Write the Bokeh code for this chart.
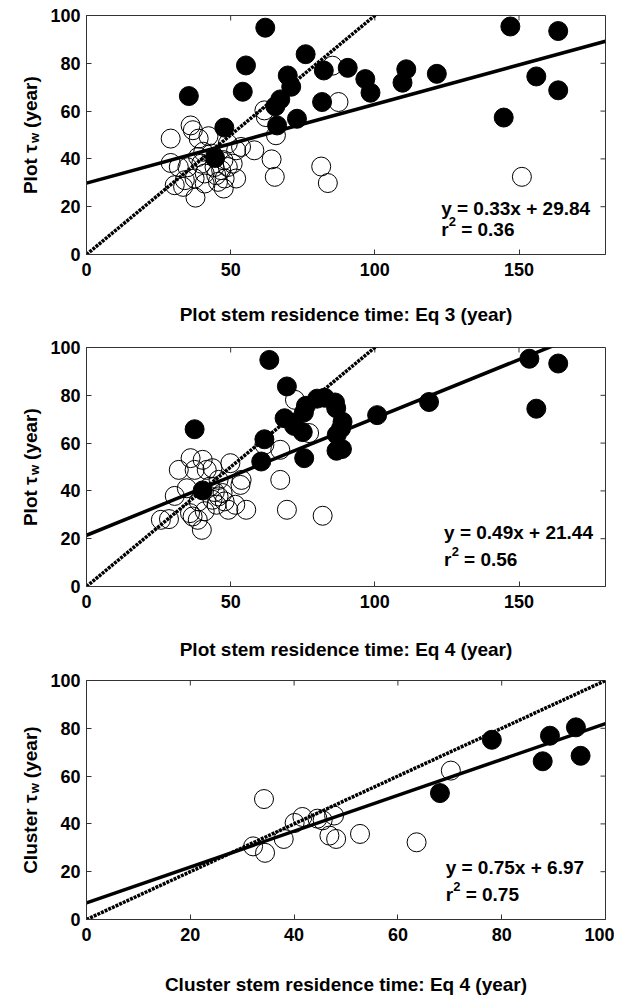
import math
from bokeh.plotting import figure
from bokeh.models import FixedTicker, Label, Range1d
from bokeh.layouts import column, row
from bokeh.embed import file_html
from bokeh.resources import INLINE

FONT = "Liberation Sans"

# ---------------- data ----------------
# Panel 1: Plot tau_w vs plot stem residence time (Eq 3)
p1_open_x = [29.2, 36.1, 36.9, 38.9, 42.3, 29.2, 32.0, 30.6, 34.1, 33.5, 37.8, 38.7, 39.8, 41.0,
             43.3, 44.4, 45.0, 46.7, 47.9, 47.6, 49.0, 50.7, 51.9, 51.9, 53.6, 58.2, 49.0, 41.0,
             37.5, 45.6, 61.7, 62.2, 65.7, 64.2, 65.3, 85.3, 87.4, 81.4, 83.7, 151.0, 40.5, 35.0, 47.5]
p1_open_y = [48.5, 54.0, 52.0, 48.5, 49.5, 38.3, 36.6, 29.0, 31.1, 28.3, 23.8, 40.8, 38.0, 33.9,
             42.2, 36.6, 33.2, 35.3, 31.8, 27.6, 36.6, 38.0, 31.8, 43.6, 45.0, 43.6, 46.4, 29.7,
             31.8, 30.4, 60.3, 57.5, 49.9, 39.8, 32.5, 79.0, 63.8, 36.8, 29.9, 32.5, 43.0, 36.5, 39.5]
p1_fill_x = [35.5, 62.0, 55.3, 54.2, 47.8, 44.6, 66.1, 67.2, 65.5, 69.8, 71.0, 73.0, 76.0, 82.3,
             81.7, 90.6, 96.7, 98.5, 109.6, 110.9, 121.5, 144.7, 147.0, 156.0, 163.6, 163.6]
p1_fill_y = [66.3, 94.9, 79.1, 68.1, 53.1, 40.4, 54.0, 64.9, 62.0, 74.9, 70.2, 56.8, 83.8, 77.0,
             63.8, 78.1, 73.4, 67.7, 71.9, 77.5, 75.6, 57.3, 95.4, 74.5, 93.5, 68.7]
p1_slope, p1_icpt, p1_r2 = 0.33, 29.84, 0.36

# Panel 2: Plot tau_w vs plot stem residence time (Eq 4)
p2_open_x = [25.8, 28.6, 30.6, 32.0, 36.1, 37.5, 40.3, 41.7, 43.7, 35.9, 36.8, 38.6, 40.0, 45.8,
             47.2, 49.9, 49.2, 51.6, 53.8, 53.4, 55.4, 43.7, 45.1, 45.8, 47.9, 42.8, 34.8, 38.9,
             67.2, 69.5, 81.9, 67.2, 61.7, 72.3, 77.2, 44.5, 41.0]
p2_open_y = [27.9, 28.2, 37.9, 48.8, 53.7, 48.8, 53.0, 48.8, 49.5, 30.7, 29.3, 27.9, 23.7, 44.6,
             39.1, 51.6, 32.1, 34.2, 44.6, 42.5, 32.1, 36.3, 34.2, 37.7, 35.6, 41.8, 41.1, 35.6,
             44.6, 32.1, 29.6, 57.2, 59.3, 78.1, 64.2, 39.5, 31.5]
p2_fill_x = [37.5, 63.4, 69.5, 61.7, 60.6, 68.7, 72.0, 75.0, 76.1, 75.4, 75.5, 80.0, 82.6, 86.2,
             86.6, 88.8, 88.3, 86.8, 86.7, 88.6, 100.8, 118.8, 153.6, 156.0, 163.6, 40.3]
p2_fill_y = [65.8, 94.8, 83.7, 61.6, 52.3, 70.4, 67.2, 64.6, 75.6, 72.8, 53.7, 78.6, 79.0, 77.0,
             74.6, 68.9, 66.2, 63.5, 56.8, 57.5, 71.7, 77.2, 95.3, 74.4, 93.3, 40.2]
p2_slope, p2_icpt, p2_r2 = 0.49, 21.44, 0.56

# Panel 3: Cluster tau_w vs cluster stem residence time (Eq 4)
p3_open_x = [32.1, 34.4, 34.2, 38.0, 40.1, 41.6, 44.5, 45.5, 47.7, 46.8, 48.1, 52.7, 63.6, 70.2]
p3_open_y = [30.6, 27.9, 50.4, 33.7, 40.4, 42.9, 42.2, 41.5, 43.5, 35.1, 33.7, 35.8, 32.3, 62.3]
p3_fill_x = [68.1, 78.1, 87.9, 89.3, 94.3, 95.2]
p3_fill_y = [52.9, 75.2, 66.2, 76.9, 80.4, 68.5]
p3_slope, p3_icpt, p3_r2 = 0.75, 6.97, 0.75

x_ticks_plot = [0, 50, 100, 150]
x_ticks_cluster = [0, 20, 40, 60, 80, 100]
y_ticks = [0, 20, 40, 60, 80, 100]

titles = ["Plot stem residence time: Eq 3 (year)",
          "Plot stem residence time: Eq 4 (year)",
          "Cluster stem residence time: Eq 4 (year)"]
ylab_first = ["Plot \u03c4", "Plot \u03c4", "Cluster \u03c4"]

AX = "#333333"
FRAME_W = 519
FRAME_H = 239
LEFT = 86
LABEL_W = 42

TXT = dict(text_font=FONT, text_font_style="bold", text_color="black",
           text_align="left", text_baseline="alphabetic")


def style_axis(ax, ticks):
    ax.ticker = FixedTicker(ticks=ticks)
    ax.major_tick_in = 5
    ax.major_tick_out = 0
    ax.minor_tick_line_color = None
    ax.axis_line_color = AX
    ax.major_tick_line_color = AX
    ax.axis_line_width = 1
    ax.major_label_text_font = FONT
    ax.major_label_text_font_style = "bold"
    ax.major_label_text_font_size = "18px"
    ax.major_label_text_color = "black"


def make_ylabel(idx, height):
    # the row aligns this figure's frame with the panel's frame (FRAME_H px tall)
    lf = figure(width=LABEL_W, height=height, title=None,
                x_range=Range1d(0, LABEL_W), y_range=Range1d(0, FRAME_H),
                output_backend="svg", toolbar_location=None,
                min_border=0, min_border_left=0, min_border_right=0,
                min_border_top=0, min_border_bottom=0,
                x_axis_location=None, y_axis_location=None)
    lf.outline_line_color = None
    lf.grid.visible = False
    cy = FRAME_H / 2.0
    w_first = 51.0 if idx < 2 else 80.6
    w_sub = 10.1
    w_gap = 5.0
    w_last = 52.0
    start = cy - (w_first + w_sub + w_gap + w_last) / 2.0
    rot = dict(angle=math.pi / 2, **TXT)
    lf.add_layout(Label(x=30, y=start, text=ylab_first[idx], text_font_size="19px", **rot))
    lf.add_layout(Label(x=34, y=start + w_first, text="w", text_font_size="13px", **rot))
    lf.add_layout(Label(x=30, y=start + w_first + w_sub + w_gap, text="(year)",
                        text_font_size="19px", **rot))
    return lf


def make_panel(idx, xmax, xticks, ox, oy, fx, fy, slope, icpt, r2, eq_x, eq_y1, eq_y2,
               height, top, bottom, label_standoff):
    p = figure(width=LEFT - LABEL_W + FRAME_W + 9, height=height,
               x_range=Range1d(0, xmax), y_range=Range1d(0, 100),
               output_backend="svg", toolbar_location=None,
               min_border_left=LEFT - LABEL_W, min_border_right=9, min_border_top=top,
               min_border_bottom=bottom)
    p.grid.visible = False
    p.outline_line_color = AX
    p.background_fill_color = "white"
    p.border_fill_color = "white"

    style_axis(p.xaxis[0], xticks)
    style_axis(p.yaxis[0], y_ticks)
    p.xaxis.major_label_standoff = 8
    p.yaxis.major_label_standoff = 6
    p.xaxis.axis_label = titles[idx]
    p.xaxis.axis_label_text_font = FONT
    p.xaxis.axis_label_text_font_style = "bold"
    p.xaxis.axis_label_text_font_size = "19px"
    p.xaxis.axis_label_text_color = "black"
    p.xaxis.axis_label_standoff = label_standoff

    # inward ticks on the top and right edges of the box
    p.ray(x=xticks, y=[100] * len(xticks), length=5, length_units="screen",
          angle=-math.pi / 2, line_color=AX, line_width=1)
    p.ray(x=[xmax] * len(y_ticks), y=y_ticks, length=5, length_units="screen",
          angle=math.pi, line_color=AX, line_width=1)

    # regression and 1:1 lines
    xs = [0, xmax]
    p.line(xs, [slope * v + icpt for v in xs], line_color="black", line_width=3.5)
    p.line(xs, xs, line_color="black", line_width=3.5, line_dash="3 1")

    p.scatter(ox, oy, marker="circle", size=19, fill_color=None, line_color="black", line_width=1)
    p.scatter(fx, fy, marker="circle", size=19, fill_color="black", line_color="black", line_width=1)

    p.add_layout(Label(x=eq_x, y=eq_y1, text="y = %.2fx + %.2f" % (slope, icpt),
                       text_font_size="19px", **TXT))
    p.add_layout(Label(x=eq_x, y=eq_y2, text="r", text_font_size="19px", **TXT))
    p.add_layout(Label(x=eq_x, y=eq_y2, x_offset=7.6, y_offset=8, text="2",
                       text_font_size="13px", **TXT))
    p.add_layout(Label(x=eq_x, y=eq_y2, x_offset=20.0, text="= %.2f" % r2,
                       text_font_size="19px", **TXT))
    return p


# figure heights / borders (page rows: 0-337, 337-670, 670-1000)
h1, t1, b1 = 337, 15, 83
h2, t2, b2 = 333, 10, 84
h3, t3, b3 = 330, 10, 81

p1 = make_panel(0, 180, x_ticks_plot, p1_open_x, p1_open_y, p1_fill_x, p1_fill_y,
                p1_slope, p1_icpt, p1_r2, 123, 19.2, 10.4, h1, t1, b1, 25)
p2 = make_panel(1, 180, x_ticks_plot, p2_open_x, p2_open_y, p2_fill_x, p2_fill_y,
                p2_slope, p2_icpt, p2_r2, 124, 22.5, 11.1, h2, t2, b2, 28)
p3 = make_panel(2, 100, x_ticks_cluster, p3_open_x, p3_open_y, p3_fill_x, p3_fill_y,
                p3_slope, p3_icpt, p3_r2, 69.2, 21.8, 10.6, h3, t3, b3, 30)

l1 = make_ylabel(0, h1)
l2 = make_ylabel(1, h2)
l3 = make_ylabel(2, h3)

layout = column(row(l1, p1, spacing=0), row(l2, p2, spacing=0), row(l3, p3, spacing=0),
                spacing=0)
open("out.html", "w").write(file_html(layout, INLINE))
